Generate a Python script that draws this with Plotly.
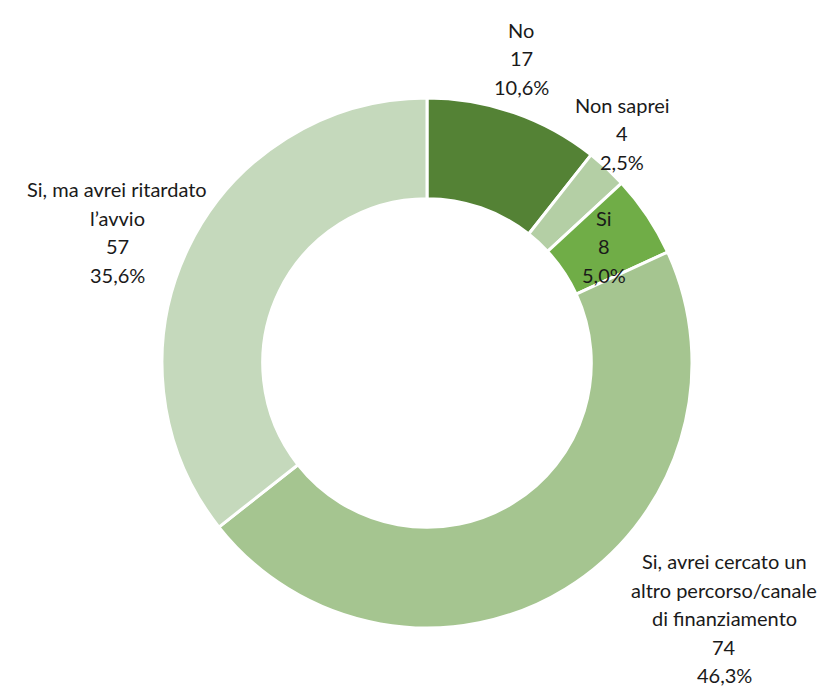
import plotly.graph_objects as go
from decimal import Decimal, ROUND_HALF_UP

# Risposte alla domanda e numero di rispondenti
categories = [
    "No",
    "Non saprei",
    "Si",
    "Si, avrei cercato un<br>altro percorso/canale<br>di finanziamento",
    "Si, ma avrei ritardato<br>l\u2019avvio",
]
counts = [17, 4, 8, 74, 57]
colors = ["#548235", "#B4CFA5", "#70AD47", "#A5C590", "#C5D9BC"]

W, H = 838, 688
cx, cy, R = 427, 363, 265  # pixel centre and outer radius of the ring

# label centre (pixels) for each slice
label_pos = [(521, 58), (622, 133), (604, 246), (724, 618), (117, 232)]
LINE = 28.5

total = sum(counts)


def pct(v):
    p = Decimal(v * 100) / Decimal(total)
    return str(p.quantize(Decimal("0.1"), rounding=ROUND_HALF_UP)).replace(".", ",") + "%"


fig = go.Figure(
    go.Pie(
        labels=[c.replace("<br>", " ") for c in categories],
        values=counts,
        sort=False,
        direction="clockwise",
        rotation=0,
        hole=0.62,
        marker=dict(colors=colors, line=dict(color="white", width=3)),
        textinfo="none",
        hoverinfo="label+value+percent",
        domain=dict(
            x=[(cx - R) / W, (cx + R) / W],
            y=[(H - cy - R) / H, (H - cy + R) / H],
        ),
        showlegend=False,
    )
)

annotations = []
for cat, v, (lx, ly) in zip(categories, counts, label_pos):
    lines = cat.split("<br>") + [str(v), pct(v)]
    n = len(lines)
    for i, line in enumerate(lines):
        y_px = ly + (i - (n - 1) / 2) * LINE
        annotations.append(
            dict(
                x=lx / W,
                y=1 - y_px / H,
                xref="paper",
                yref="paper",
                text=line,
                showarrow=False,
                xanchor="center",
                yanchor="middle",
                font=dict(family="Lato", size=20, color="#1a1a1a"),
            )
        )

fig.update_layout(
    width=W,
    height=H,
    margin=dict(l=0, r=0, t=0, b=0),
    paper_bgcolor="white",
    plot_bgcolor="white",
    annotations=annotations,
)

fig.write_html("out.html")
